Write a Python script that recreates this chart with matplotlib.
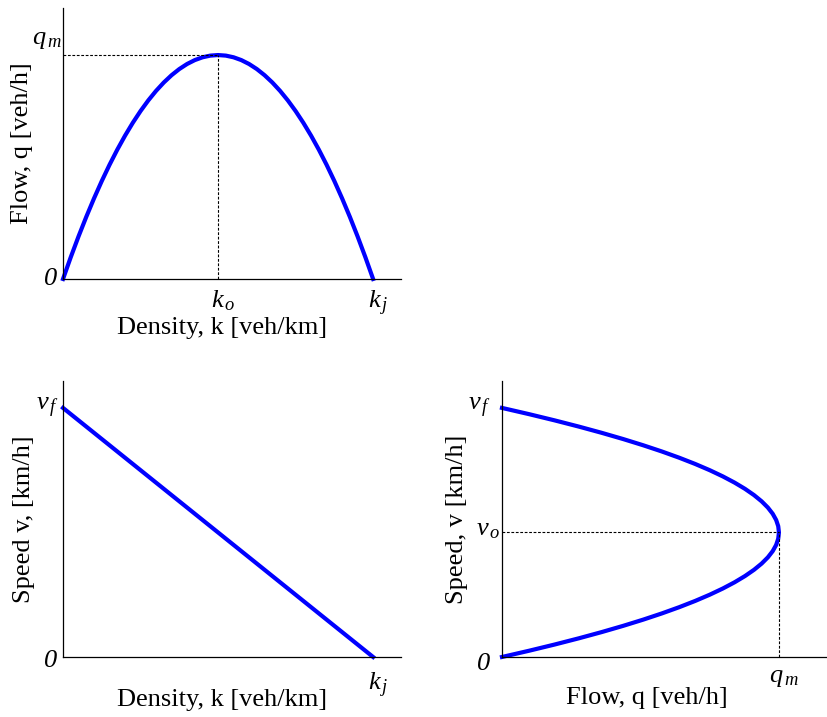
"""
Fundamental diagrams of traffic flow (Greenshields).
"""

import matplotlib.pyplot as plt

plt.rcParams["font.family"] = "Liberation Serif"
plt.rcParams["mathtext.fontset"] = "custom"
plt.rcParams["mathtext.rm"] = "Liberation Serif:italic"
plt.rcParams["mathtext.it"] = "Liberation Serif:italic"

# normalised values
density = [0.0, 0.025, 0.05, 0.075, 0.10, 0.125, 0.15, 0.175, 0.20, 0.225,
           0.25, 0.275, 0.30, 0.325, 0.35, 0.375, 0.40, 0.425, 0.45, 0.475,
           0.50, 0.525, 0.55, 0.575, 0.60, 0.625, 0.65, 0.675, 0.70, 0.725,
           0.75, 0.775, 0.80, 0.825, 0.85, 0.875, 0.90, 0.925, 0.95, 0.975,
           1.0]
flow = [0.0, 0.0975, 0.19, 0.2775, 0.36, 0.4375, 0.51, 0.5775, 0.64, 0.6975,
        0.75, 0.7975, 0.84, 0.8775, 0.91, 0.9375, 0.96, 0.9775, 0.99, 0.9975,
        1.0, 0.9975, 0.99, 0.9775, 0.96, 0.9375, 0.91, 0.8775, 0.84, 0.7975,
        0.75, 0.6975, 0.64, 0.5775, 0.51, 0.4375, 0.36, 0.2775, 0.19, 0.0975,
        0.0]
speed = [0.0, 0.025, 0.05, 0.075, 0.10, 0.125, 0.15, 0.175, 0.20, 0.225,
         0.25, 0.275, 0.30, 0.325, 0.35, 0.375, 0.40, 0.425, 0.45, 0.475,
         0.50, 0.525, 0.55, 0.575, 0.60, 0.625, 0.65, 0.675, 0.70, 0.725,
         0.75, 0.775, 0.80, 0.825, 0.85, 0.875, 0.90, 0.925, 0.95, 0.975,
         1.0]

line_density = [0.0, 1.0]
line_speed = [1.0, 0.0]

k_opt = 0.5
k_jam = 1.0
q_max = 1.0
v_free = 1.0
v_opt = 0.5

BLUE = "#0000ff"
FS = 19


def style_axes(ax):
    for side in ["top", "right"]:
        ax.spines[side].set_visible(False)
    for side in ["left", "bottom"]:
        ax.spines[side].set_linewidth(0.9)
    ax.set_xticks([])
    ax.set_yticks([])


def label(ax, x, y, text, dx, dy, ha, va):
    ax.annotate(
        text,
        xy=(x, y),
        xytext=(dx, dy),
        textcoords="offset points",
        ha=ha,
        va=va,
        fontsize=FS,
        annotation_clip=False,
    )


def guide(ax, xs, ys):
    ax.plot(xs, ys, color="black", linewidth=0.8,
            linestyle=(0, (2.5, 1.5)))


fig = plt.figure(figsize=(8.27, 7.17), dpi=100)

# flow vs density
ax1 = fig.add_axes([0.0762, 0.6109, 0.4087, 0.3779])
style_axes(ax1)
ax1.plot(density, flow, color=BLUE, linewidth=3, clip_on=False,
         solid_joinstyle="round")
guide(ax1, [0, k_opt], [q_max, q_max])
guide(ax1, [k_opt, k_opt], [0, q_max])
ax1.set_xlim(0, 1.09)
ax1.set_ylim(0, 1.21)
label(ax1, 0, 0, r"$0$", -4, 0, "right", "center")
label(ax1, 0, q_max, r"$q_{\,m}$", -1, 3, "right", "bottom")
label(ax1, k_opt, 0, r"$k_{\,o}$", 4, -7, "center", "top")
label(ax1, k_jam, 0, r"$k_{\,j}$", 4, -7, "center", "top")
ax1.set_xlabel("Density, k [veh/km]", fontsize=FS, va="top")
ax1.xaxis.set_label_coords(0.47, -0.14)
ax1.set_ylabel("Flow, q [veh/h]", fontsize=FS, va="center")
ax1.yaxis.set_label_coords(-0.121, 0.5)

# speed vs density
ax2 = fig.add_axes([0.0762, 0.0837, 0.4087, 0.3849])
style_axes(ax2)
ax2.plot(line_density, line_speed, color=BLUE, linewidth=3, clip_on=False)
ax2.set_xlim(0, 1.09)
ax2.set_ylim(0, 1.108)
label(ax2, 0, 0, r"$0$", -4, -3, "right", "center")
label(ax2, 0, v_free, r"$v_{\,f}$", -3, -2, "right", "baseline")
label(ax2, k_jam, 0, r"$k_{\,j}$", 4, -10, "center", "top")
ax2.set_xlabel("Density, k [veh/km]", fontsize=FS, va="top")
ax2.xaxis.set_label_coords(0.47, -0.115)
ax2.set_ylabel("Speed v, [km/h]", fontsize=FS, va="center")
ax2.yaxis.set_label_coords(-0.115, 0.5)

# speed vs flow
ax3 = fig.add_axes([0.6070, 0.0837, 0.3918, 0.3849])
style_axes(ax3)
ax3.plot(flow, speed, color=BLUE, linewidth=3, clip_on=False,
         solid_joinstyle="round")
guide(ax3, [0, q_max], [v_opt, v_opt])
guide(ax3, [q_max, q_max], [0, v_opt])
ax3.set_xlim(0, 1.17)
ax3.set_ylim(0, 1.108)
label(ax3, 0, 0, r"$0$", -8, -5, "right", "center")
label(ax3, 0, v_free, r"$v_{\,f}$", -8, -2, "right", "baseline")
label(ax3, 0, v_opt, r"$v_{\,o}$", -1, -2, "right", "baseline")
label(ax3, q_max, 0, r"$q_{\,m}$", 4, -7, "center", "top")
ax3.set_xlabel("Flow, q [veh/h]", fontsize=FS, va="top")
ax3.xaxis.set_label_coords(0.447, -0.11)
ax3.set_ylabel("Speed, v [km/h]", fontsize=FS, va="center")
ax3.yaxis.set_label_coords(-0.139, 0.5)

fig.savefig("out.png", dpi=100)
